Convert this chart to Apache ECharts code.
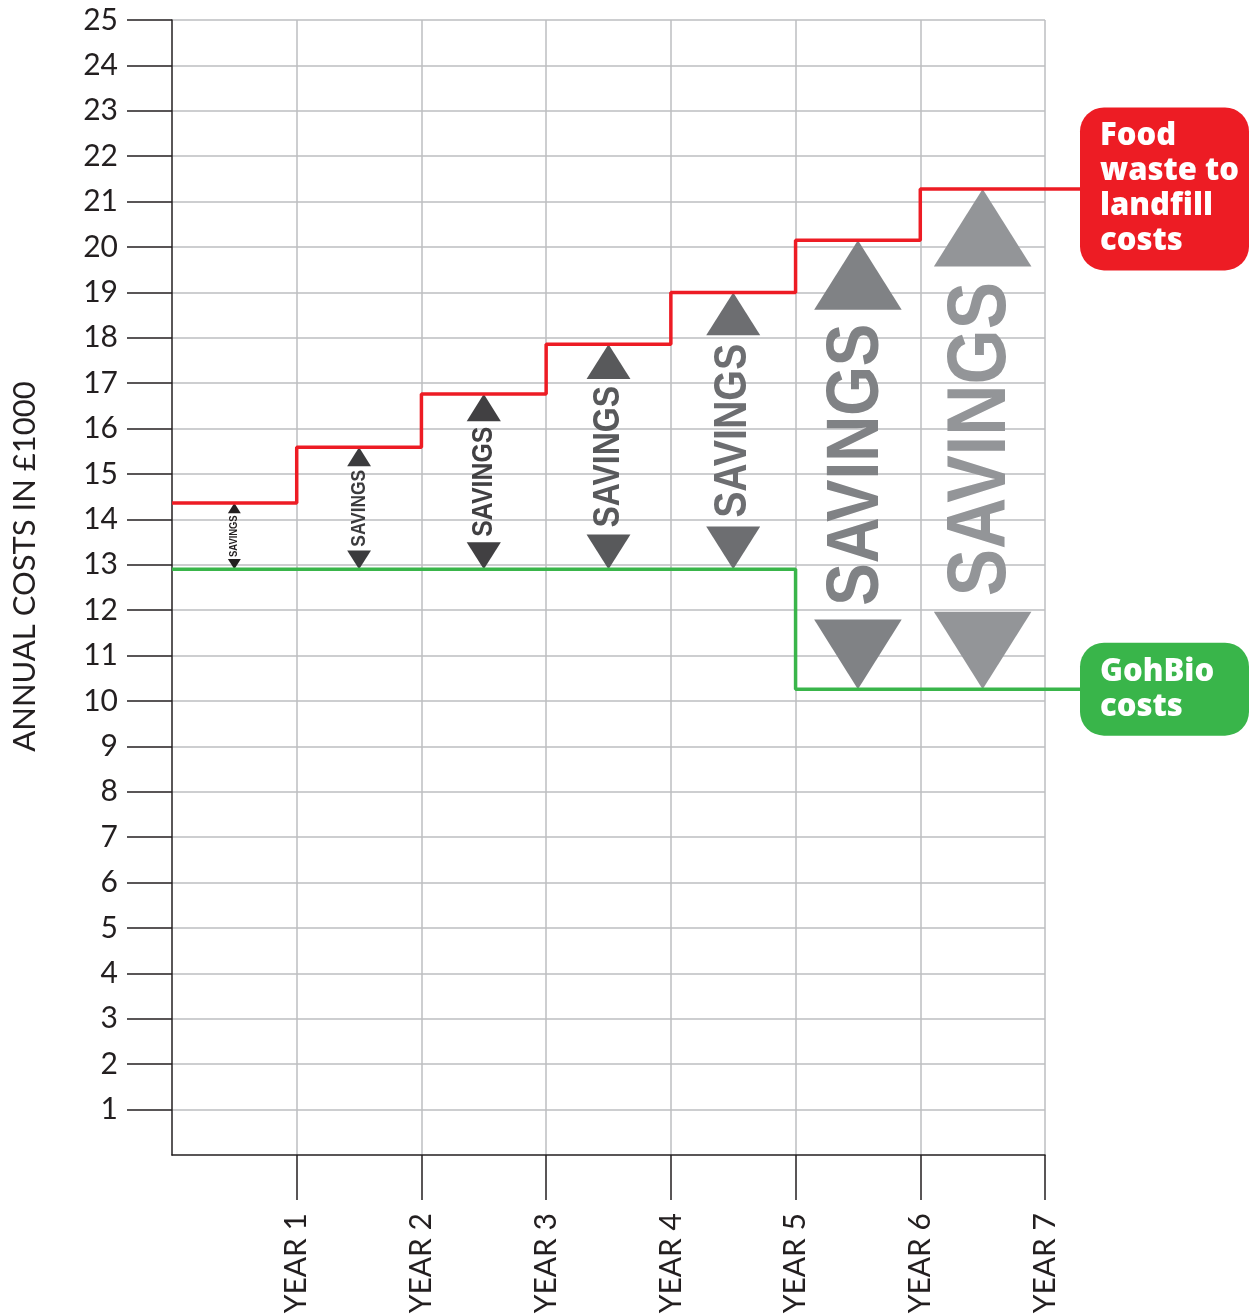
<!DOCTYPE html>
<html><head><meta charset="utf-8">
<script src="https://cdn.jsdelivr.net/npm/echarts@6/dist/echarts.min.js"></script>
<style>html,body{margin:0;padding:0;background:#fff}#c{width:1251px;height:1314px}</style>
</head><body><div id="c"></div>
<script>
// ---- data ----
const years = [1, 2, 3, 4, 5, 6, 7];
const yTickValues = [1,2,3,4,5,6,7,8,9,10,11,12,13,14,15,16,17,18,19,20,21,22,23,24,25];
const landfillCosts = [14.36, 15.59, 16.76, 17.86, 19.0, 20.15, 21.28];
const gohbioCosts = [12.9, 12.9, 12.9, 12.9, 12.9, 10.26, 10.26];
const yAxisTitle = 'ANNUAL COSTS IN £1000';
const yearPrefix = 'YEAR ';
const savingsText = 'SAVINGS';
const landfillLabel = 'Food\nwaste to\nlandfill\ncosts';
const gohbioLabel = 'GohBio\ncosts';

// ---- styles ----
const RED = '#ed1c24', GREEN = '#39b54a', INK = '#231f20', GRID = '#bcbec0';
const arrowColors = ['#231f20', '#3b3b3d', '#414042', '#58595b', '#6d6e71', '#808285', '#939598'];
const FONT = 'Lato';

const stepPoints = costs => costs.map((c, i) => [i, c]).concat([[costs.length, costs[costs.length - 1]]]);

const chart = echarts.init(document.getElementById('c'));
chart.setOption({
  animation: false,
  backgroundColor: '#fff',
  grid: { left: 172, right: 206, top: 20, bottom: 159, containLabel: false, outerBoundsMode: 'none' },
  xAxis: {
    type: 'value', min: 0, max: 7, interval: 1,
    axisLine: { show: true, lineStyle: { color: INK, width: 1.5 } },
    axisTick: { show: true, customValues: years, length: 45, lineStyle: { color: INK, width: 1.5 } },
    axisLabel: { customValues: years, rotate: 90, margin: 58, formatter: v => yearPrefix + v,
      fontFamily: FONT, fontSize: 30, color: INK },
    splitLine: { show: true, lineStyle: { color: GRID, width: 1.5 } }
  },
  yAxis: {
    type: 'value', min: 0, max: 25, interval: 1,
    name: yAxisTitle, nameLocation: 'middle', nameGap: 132, nameRotate: 90,
    nameTextStyle: { fontFamily: FONT, fontSize: 31, color: INK, padding: [0, 0, 0, 42] },
    axisLine: { show: true, lineStyle: { color: INK, width: 1.5 } },
    axisTick: { show: true, customValues: yTickValues, length: 45, lineStyle: { color: INK, width: 1.5 } },
    axisLabel: { customValues: yTickValues, margin: 54, fontFamily: FONT, fontSize: 30, color: INK },
    splitLine: { show: true, lineStyle: { color: GRID, width: 1.5 } }
  },
  series: [
    {
      type: 'custom', name: 'savings', clip: false, z: 2,
      data: years.map((y, i) => [y - 0.5, landfillCosts[i], gohbioCosts[i]]),
      renderItem(params, api) {
        const x = api.value(0);
        const top = api.coord([x, api.value(1)]);
        const bot = api.coord([x, api.value(2)]);
        const cx = top[0], t = top[1], b = bot[1], L = b - t;
        const w = 0.195 * L, h = 0.155 * L, fs = 0.165 * L;
        const color = arrowColors[params.dataIndex];
        return { type: 'group', children: [
          { type: 'polygon', shape: { points: [[cx, t], [cx - w / 2, t + h], [cx + w / 2, t + h]] }, style: { fill: color } },
          { type: 'polygon', shape: { points: [[cx, b], [cx - w / 2, b - h], [cx + w / 2, b - h]] }, style: { fill: color } },
          { type: 'text', x: cx, y: (t + b) / 2, rotation: Math.PI / 2, scaleX: 0.86,
            style: { text: savingsText, font: 'bold ' + fs.toFixed(1) + 'px "Liberation Sans"', fill: color,
              align: 'center', verticalAlign: 'middle' } }
        ] };
      }
    },
    {
      type: 'line', name: 'Food waste to landfill costs', step: 'end', symbol: 'none', z: 3,
      data: stepPoints(landfillCosts), lineStyle: { color: RED, width: 3.5 }
    },
    {
      type: 'line', name: 'GohBio costs', step: 'end', symbol: 'none', z: 3,
      data: stepPoints(gohbioCosts), lineStyle: { color: GREEN, width: 3.5 }
    },
    {
      type: 'custom', name: 'callouts', clip: false, z: 4,
      data: [[years.length, landfillCosts[landfillCosts.length - 1], 0], [years.length, gohbioCosts[gohbioCosts.length - 1], 1]],
      renderItem(params, api) {
        const p = api.coord([api.value(0), api.value(1)]);
        const idx = api.value(2);
        const color = idx === 0 ? RED : GREEN;
        const text = idx === 0 ? landfillLabel : gohbioLabel;
        const lines = text.split('\n').length;
        const lh = 35, bh = lines * lh + 23, bx = p[0] + 35, bw = 169;
        return { type: 'group', children: [
          { type: 'line', shape: { x1: p[0], y1: p[1], x2: bx + 2, y2: p[1] }, style: { stroke: color, lineWidth: 3.5 } },
          { type: 'rect', shape: { x: bx, y: p[1] - bh / 2, width: bw, height: bh, r: 24 }, style: { fill: color } },
          { type: 'text', x: bx + 20, y: p[1],
            style: { text: text, fill: '#fff', font: '800 31px "Open Sans"', lineHeight: lh,
              align: 'left', verticalAlign: 'middle' } }
        ] };
      }
    }
  ]
});
</script></body></html>
